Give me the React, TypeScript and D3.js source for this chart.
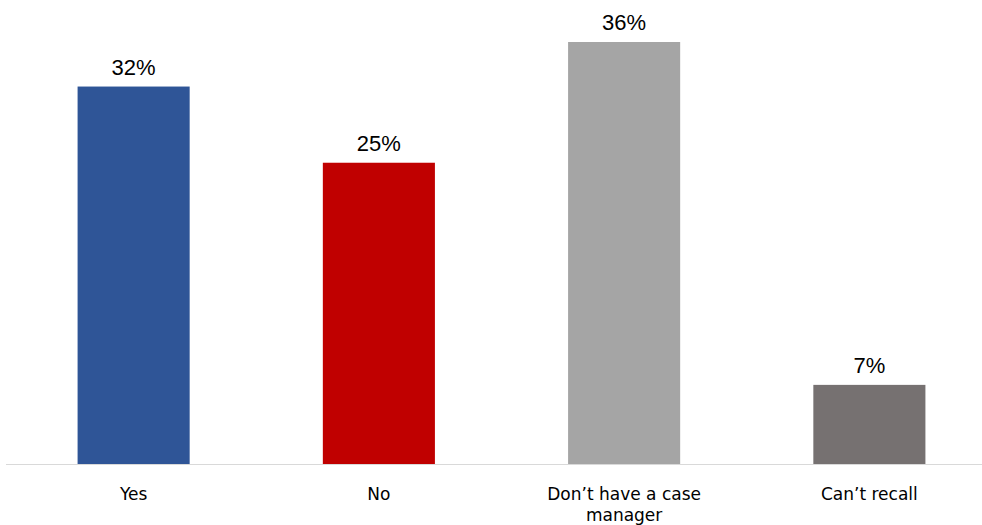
import React from "react";
import * as d3 from "d3";

const categories: string[][] = [["Yes"], ["No"], ["Don\u2019t have a case", "manager"], ["Can\u2019t recall"]];
const values: number[] = [32.2, 25.7, 36.0, 6.75];
const valueLabels: string[] = ["32%", "25%", "36%", "7%"];
const colors: string[] = ["#2F5597", "#C00000", "#A5A5A5", "#767171"];

const W = 982;
const H = 525;
const baseY = 464;

export default function App() {
  const keys = categories.map((_, i) => String(i));
  const x = d3.scaleBand<string>().domain(keys).range([11, 992]).paddingInner(0.543).paddingOuter(0.2715);
  const y = d3.scaleLinear().domain([0, 36]).range([baseY, 42]);

  return (
    <svg width={W} height={H} style={{ position: "absolute", left: 0, top: 0, background: "#fff" }}>
      {values.map((v, i) => (
        <rect key={"b" + i} x={x(String(i))} y={y(v)} width={x.bandwidth()} height={baseY - y(v)} fill={colors[i]} />
      ))}
      <line x1={6} x2={982} y1={baseY + 0.5} y2={baseY + 0.5} stroke="#d9d9d9" strokeWidth={1} />
      {values.map((v, i) => (
        <text
          key={"v" + i}
          x={(x(String(i)) as number) + x.bandwidth() / 2}
          y={y(v) - 12}
          textAnchor="middle"
          fontFamily="'Liberation Sans', Arial, sans-serif"
          fontSize={22}
          fill="#000"
        >
          {valueLabels[i]}
        </text>
      ))}
      {categories.map((lines, i) => (
        <text
          key={"c" + i}
          x={(x(String(i)) as number) + x.bandwidth() / 2}
          y={500}
          textAnchor="middle"
          fontFamily="'DejaVu Sans', sans-serif"
          fontSize={17}
          fill="#000"
        >
          {lines.map((l, j) => (
            <tspan key={j} x={(x(String(i)) as number) + x.bandwidth() / 2} dy={j === 0 ? 0 : 21}>
              {l}
            </tspan>
          ))}
        </text>
      ))}
    </svg>
  );
}
